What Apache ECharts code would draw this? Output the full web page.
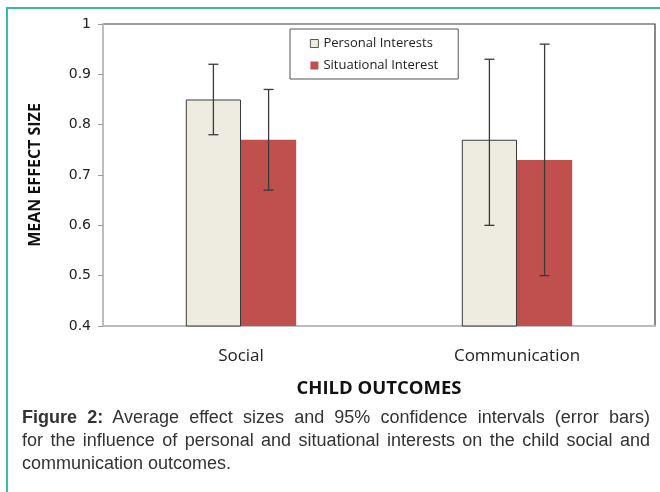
<!DOCTYPE html>
<html>
<head>
<meta charset="utf-8">
<script src="https://cdn.jsdelivr.net/npm/echarts@6/dist/echarts.min.js"></script>
<style>
  html, body { margin: 0; padding: 0; background: #fff; }
  .frame { position: relative; width: 660px; height: 492px; overflow: hidden; }
  .edge { position: absolute; left: 6px; top: 7px; right: -10px; bottom: -10px;
    border-top: 2px solid #3bb8a6; border-left: 2px solid #3bb8a6; }
  #chart { position: absolute; left: 0; top: 0; width: 660px; height: 492px; }
  .caption { position: absolute; left: 22px; top: 406px; width: 628px;
    font-family: "Liberation Sans", Arial, sans-serif; font-size: 18px; line-height: 23px; color: #333; }
  .caption .j { text-align: justify; text-align-last: justify; }
</style>
</head>
<body>
<div class="frame">
  <div class="edge"></div>
  <div id="chart"></div>
  <div class="caption">
    <div class="j"><b>Figure 2:</b> Average effect sizes and 95% confidence intervals (error bars)</div>
    <div class="j">for the influence of personal and situational interests on the child social and</div>
    <div>communication outcomes.</div>
  </div>
</div>
<script>
const categories = ['Social', 'Communication']
const personalMean = [0.85, 0.77]
const personalLow = [0.78, 0.60]
const personalHigh = [0.92, 0.93]
const situationalMean = [0.77, 0.73]
const situationalLow = [0.67, 0.50]
const situationalHigh = [0.87, 0.96]

const font = '"Open Sans", sans-serif'

// error bar drawn at the centre of one bar in a two-bar group
function errorBar(side) {
  return (params, api) => {
    const band = api.size([1, 0])[0]
    const shift = side * band * 0.1
    const top = api.coord([api.value(0), api.value(2)])
    const bot = api.coord([api.value(0), api.value(1)])
    const x = top[0] + shift
    const cap = 5
    const style = { stroke: '#3a3a3a', lineWidth: 1.3 }
    return {
      type: 'group',
      children: [
        { type: 'line', shape: { x1: x, y1: top[1], x2: x, y2: bot[1] }, style },
        { type: 'line', shape: { x1: x - cap, y1: top[1], x2: x + cap, y2: top[1] }, style },
        { type: 'line', shape: { x1: x - cap, y1: bot[1], x2: x + cap, y2: bot[1] }, style }
      ]
    }
  }
}

const chart = echarts.init(document.getElementById('chart'), null, { renderer: 'canvas' })
chart.setOption({
  animation: false,
  textStyle: { fontFamily: font },
  grid: {
    left: 103, right: 5, top: 24, bottom: 166,
    outerBoundsMode: 'none',
    containLabel: false,
    show: true, borderColor: '#3a3a3a', borderWidth: 1.2, backgroundColor: '#fff'
  },
  legend: {
    orient: 'vertical',
    left: 290, top: 29,
    padding: [8, 20, 7, 20],
    itemGap: 9,
    itemWidth: 8, itemHeight: 8,
    icon: 'rect',
    borderColor: '#555', borderWidth: 1,
    backgroundColor: '#fff',
    textStyle: { fontFamily: font, fontSize: 13, color: '#222' },
    data: [
      { name: 'Personal Interests', itemStyle: { borderWidth: 0.8, borderColor: '#333' } },
      'Situational Interest'
    ]
  },
  xAxis: {
    type: 'category',
    data: categories,
    name: 'CHILD OUTCOMES',
    nameLocation: 'middle',
    nameGap: 53,
    nameTextStyle: { fontFamily: font, fontSize: 18.5, fontWeight: 'bold', color: '#111' },
    axisLine: { lineStyle: { color: '#bdbdbd', width: 2 } },
    axisTick: { show: false },
    axisLabel: { fontFamily: font, fontSize: 17, color: '#222', margin: 22 },
    splitLine: { show: false }
  },
  yAxis: {
    type: 'value',
    min: 0.4, max: 1.0, interval: 0.1,
    name: 'MEAN EFFECT SIZE',
    nameLocation: 'middle',
    nameGap: 60,
    nameTextStyle: { fontFamily: font, fontSize: 16, fontWeight: 'bold', color: '#111' },
    axisLine: { show: true, lineStyle: { color: '#bdbdbd', width: 2 } },
    axisTick: { show: true, length: 5, lineStyle: { color: '#9a9a9a' } },
    axisLabel: { fontFamily: '"DejaVu Sans", sans-serif', fontSize: 14, color: '#222', margin: 12,
      formatter: (v) => v === 1 ? '1' : v.toFixed(1) },
    splitLine: { show: false }
  },
  series: [
    {
      name: 'Personal Interests',
      type: 'bar',
      data: personalMean,
      barCategoryGap: '60%',
      barGap: '0%',
      itemStyle: { color: '#eeece1', borderColor: '#3a3a3a', borderWidth: 1 }
    },
    {
      name: 'Situational Interest',
      type: 'bar',
      data: situationalMean,
      itemStyle: { color: '#c0504d' }
    },
    {
      type: 'custom',
      renderItem: errorBar(-1),
      data: categories.map((c, i) => [i, personalLow[i], personalHigh[i]]),
      z: 5
    },
    {
      type: 'custom',
      renderItem: errorBar(1),
      data: categories.map((c, i) => [i, situationalLow[i], situationalHigh[i]]),
      z: 5
    }
  ]
})
</script>
</body>
</html>
